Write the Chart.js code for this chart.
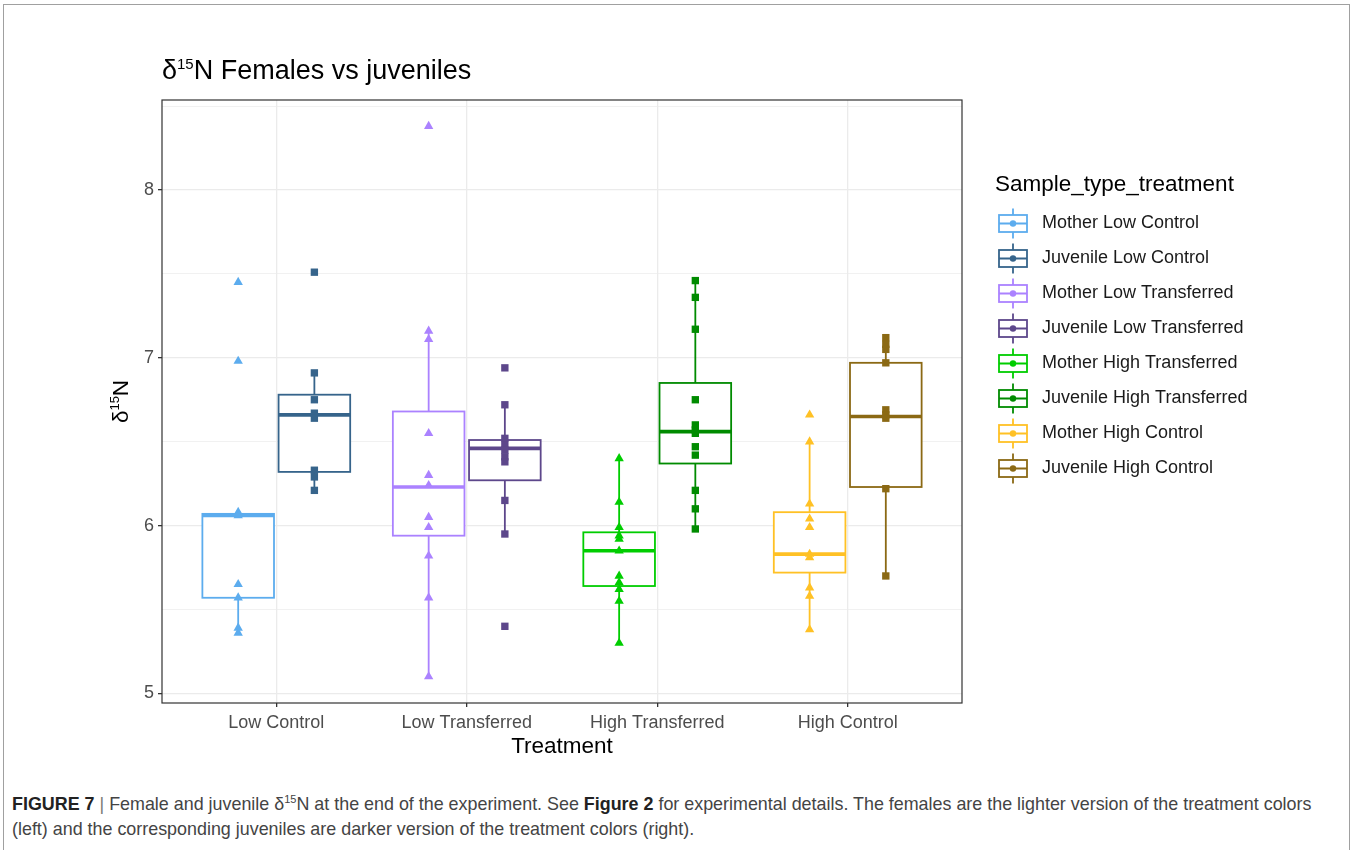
<!DOCTYPE html>
<html>
<head>
<meta charset="utf-8">
<script src="https://cdn.jsdelivr.net/npm/chart.js@4.4.1/dist/chart.umd.min.js"></script>
<style>
  html, body { margin: 0; padding: 0; background: #fff; }
  body { width: 1351px; height: 850px; position: relative; overflow: hidden; font-family: 'Liberation Sans', Arial, sans-serif; }
  #frame { position: absolute; left: 3px; top: 4px; width: 1345px; height: 900px; border: 1px solid #a0a0a0; border-bottom: none; }
  #chart { position: absolute; left: 0; top: 0; }
  #caption { position: absolute; left: 12px; top: 792px; font-size: 17.9px; line-height: 25px; color: #444; white-space: nowrap; }
  #caption b { color: #222; }
  #caption .bar { color: #777; }
  #caption sup { font-size: 11px; line-height: 0; }
</style>
</head>
<body>
<div id="frame"></div>
<canvas id="chart" width="1351" height="780"></canvas>
<div id="caption"><b>FIGURE 7</b> <span class="bar">|</span> Female and juvenile δ<sup>15</sup>N at the end of the experiment. See <b>Figure 2</b> for experimental details. The females are the lighter version of the treatment colors<br>(left) and the corresponding juveniles are darker version of the treatment colors (right).</div>
<script>
const categories = ['Low Control', 'Low Transferred', 'High Transferred', 'High Control'];
const groupNames = ['Mother Low Control', 'Juvenile Low Control', 'Mother Low Transferred', 'Juvenile Low Transferred',
    'Mother High Transferred', 'Juvenile High Transferred', 'Mother High Control', 'Juvenile High Control'];
const groupColors = ['#5CACEE', '#36648B', '#AB82FF', '#5D478B', '#00CD00', '#008B00', '#FFC125', '#8B6914'];
const yTicks = [5, 5.5, 6, 6.5, 7, 7.5, 8, 8.5];

// raw d15N values per group
const motherLowControl = [7.45, 6.98, 6.08, 6.06, 5.65, 5.57, 5.39, 5.36];
const juvenileLowControl = [7.51, 6.91, 6.75, 6.67, 6.64, 6.33, 6.29, 6.21];
const motherLowTransferred = [8.38, 7.16, 7.11, 6.55, 6.30, 6.24, 6.05, 5.99, 5.82, 5.57, 5.10];
const juvenileLowTransferred = [6.94, 6.72, 6.52, 6.48, 6.45, 6.41, 6.38, 6.15, 5.95, 5.40];
const motherHighTransferred = [6.40, 6.14, 5.99, 5.94, 5.92, 5.85, 5.70, 5.66, 5.62, 5.55, 5.30];
const juvenileHighTransferred = [7.46, 7.36, 7.17, 6.75, 6.60, 6.57, 6.55, 6.47, 6.42, 6.21, 6.10, 5.98];
const motherHighControl = [6.66, 6.50, 6.13, 6.04, 5.99, 5.83, 5.81, 5.63, 5.58, 5.38];
const juvenileHighControl = [7.12, 7.08, 7.05, 6.97, 6.69, 6.66, 6.64, 6.22, 5.70];

// box statistics per group
const q1 = [5.57, 6.32, 5.94, 6.27, 5.64, 6.37, 5.72, 6.23];
const median = [6.06, 6.66, 6.23, 6.46, 5.85, 6.56, 5.83, 6.65];
const q3 = [6.07, 6.78, 6.68, 6.51, 5.96, 6.85, 6.08, 6.97];
const whiskerLow = [5.36, 6.21, 5.10, 5.95, 5.30, 5.98, 5.38, 5.70];
const whiskerHigh = [6.08, 6.91, 7.15, 6.72, 6.40, 7.46, 6.50, 7.12];

const seriesValues = [motherLowControl, juvenileLowControl, motherLowTransferred, juvenileLowTransferred,
    motherHighTransferred, juvenileHighTransferred, motherHighControl, juvenileHighControl];

const DODGE = 0.2;
const BOX_HALF = 0.188;
const FONT = "'Liberation Sans', Arial, sans-serif";

function groupX(g) {
    return Math.floor(g / 2) + 1 + (g % 2 ? DODGE : -DODGE);
}

// text with a superscript part, e.g. δ^15 N
function drawParts(ctx, x, y, parts) {
    let cx = x;
    parts.forEach(p => {
        ctx.font = p.size + 'px ' + FONT;
        ctx.fillText(p.t, cx, y - (p.up || 0));
        cx += ctx.measureText(p.t).width;
    });
    return cx - x;
}
function partsWidth(ctx, parts) {
    let w = 0;
    parts.forEach(p => {
        ctx.font = p.size + 'px ' + FONT;
        w += ctx.measureText(p.t).width;
    });
    return w;
}

const ggDecor = {
    id: 'ggDecor',
    beforeDatasetsDraw(chart) {
        const { ctx, scales: { x, y } } = chart;
        ctx.save();
        groupNames.forEach((name, g) => {
            const cx = groupX(g);
            const px = x.getPixelForValue(cx);
            const left = x.getPixelForValue(cx - BOX_HALF);
            const right = x.getPixelForValue(cx + BOX_HALF);
            const y1 = y.getPixelForValue(q1[g]);
            const y3 = y.getPixelForValue(q3[g]);
            const ym = y.getPixelForValue(median[g]);
            ctx.strokeStyle = groupColors[g];
            ctx.lineWidth = 1.8;
            ctx.beginPath();
            ctx.moveTo(px, y.getPixelForValue(whiskerHigh[g]));
            ctx.lineTo(px, y3);
            ctx.moveTo(px, y1);
            ctx.lineTo(px, y.getPixelForValue(whiskerLow[g]));
            ctx.stroke();
            ctx.fillStyle = '#fff';
            ctx.fillRect(left, y3, right - left, y1 - y3);
            ctx.strokeRect(left, y3, right - left, y1 - y3);
            ctx.lineWidth = 3.6;
            ctx.beginPath();
            ctx.moveTo(left, ym);
            ctx.lineTo(right, ym);
            ctx.stroke();
        });
        ctx.restore();
    },
    afterDraw(chart) {
        const { ctx, chartArea: a } = chart;
        ctx.save();
        // panel border
        ctx.strokeStyle = '#333';
        ctx.lineWidth = 1.2;
        ctx.strokeRect(a.left, a.top, a.right - a.left, a.bottom - a.top);

        ctx.fillStyle = '#000';
        ctx.textBaseline = 'alphabetic';
        ctx.textAlign = 'left';
        // title
        drawParts(ctx, a.left, 79, [
            { t: 'δ', size: 27 },
            { t: '15', size: 15, up: 10 },
            { t: 'N Females vs juveniles', size: 27 }
        ]);

        // x axis title
        ctx.font = '22.5px ' + FONT;
        ctx.textAlign = 'center';
        ctx.textBaseline = 'middle';
        ctx.fillText('Treatment', (a.left + a.right) / 2, 747);

        // y axis title
        const yParts = [
            { t: 'δ', size: 22.5 },
            { t: '15', size: 13, up: 9 },
            { t: 'N', size: 22.5 }
        ];
        ctx.save();
        ctx.translate(128, (a.top + a.bottom) / 2);
        ctx.rotate(-Math.PI / 2);
        ctx.textAlign = 'left';
        ctx.textBaseline = 'alphabetic';
        drawParts(ctx, -partsWidth(ctx, yParts) / 2, 0, yParts);
        ctx.restore();

        // legend
        ctx.textAlign = 'left';
        ctx.textBaseline = 'middle';
        ctx.fillStyle = '#000';
        ctx.font = '22.5px ' + FONT;
        ctx.fillText('Sample_type_treatment', 995, 185);
        groupNames.forEach((name, g) => {
            const cy = 223.5 + 35 * g;
            const kx = 1013;
            ctx.strokeStyle = groupColors[g];
            ctx.fillStyle = groupColors[g];
            ctx.lineWidth = 1.8;
            ctx.beginPath();
            ctx.moveTo(kx, cy - 15);
            ctx.lineTo(kx, cy - 8.5);
            ctx.moveTo(kx, cy + 8.5);
            ctx.lineTo(kx, cy + 15);
            ctx.moveTo(kx - 14, cy);
            ctx.lineTo(kx + 14, cy);
            ctx.stroke();
            ctx.strokeRect(kx - 14, cy - 8.5, 28, 17);
            ctx.beginPath();
            ctx.arc(kx, cy, 3.2, 0, Math.PI * 2);
            ctx.fill();
            ctx.fillStyle = '#1a1a1a';
            ctx.font = '18px ' + FONT;
            ctx.fillText(name, 1042, cy);
        });
        ctx.restore();
    }
};

const datasets = seriesValues.map((vals, g) => ({
    label: groupNames[g],
    data: vals.map(v => ({ x: groupX(g), y: v })),
    pointStyle: g % 2 ? 'rect' : 'triangle',
    pointRadius: g % 2 ? 5.2 : 5.4,
    backgroundColor: groupColors[g],
    borderColor: groupColors[g],
    borderWidth: 0,
    showLine: false
}));

const ctx = document.getElementById('chart').getContext('2d');
new Chart(ctx, {
    type: 'scatter',
    data: { datasets: datasets },
    options: {
        responsive: false,
        animation: false,
        events: [],
        layout: { padding: { left: 0, top: 100, right: 389, bottom: 0 } },
        plugins: {
            legend: { display: false },
            tooltip: { enabled: false }
        },
        scales: {
            x: {
                type: 'linear',
                min: 0.4,
                max: 4.6,
                border: { display: false },
                afterBuildTicks: scale => {
                    scale.ticks = categories.map((c, i) => ({ value: i + 1 }));
                },
                afterFit: scale => { scale.height = 77; },
                grid: {
                    color: '#EBEBEB',
                    lineWidth: 1.3,
                    tickLength: 4,
                    tickColor: '#333'
                },
                ticks: {
                    autoSkip: false,
                    maxRotation: 0,
                    padding: 5,
                    color: '#4D4D4D',
                    font: { family: FONT, size: 18 },
                    callback: v => categories[v - 1]
                }
            },
            y: {
                type: 'linear',
                min: 4.943,
                max: 8.536,
                border: { display: false },
                afterBuildTicks: scale => {
                    scale.ticks = yTicks.map(v => ({ value: v }));
                },
                afterFit: scale => { scale.width = 162; },
                grid: {
                    color: '#EBEBEB',
                    lineWidth: c => (c.tick && c.tick.value % 1 === 0 ? 1.3 : 0.7),
                    tickLength: 4,
                    tickColor: c => (c.tick && c.tick.value % 1 === 0 ? '#333' : 'rgba(0,0,0,0)')
                },
                ticks: {
                    autoSkip: false,
                    padding: 4,
                    color: '#4D4D4D',
                    font: { family: FONT, size: 18 },
                    callback: v => (v % 1 === 0 ? String(v) : '')
                }
            }
        }
    },
    plugins: [ggDecor]
});
</script>
</body>
</html>
